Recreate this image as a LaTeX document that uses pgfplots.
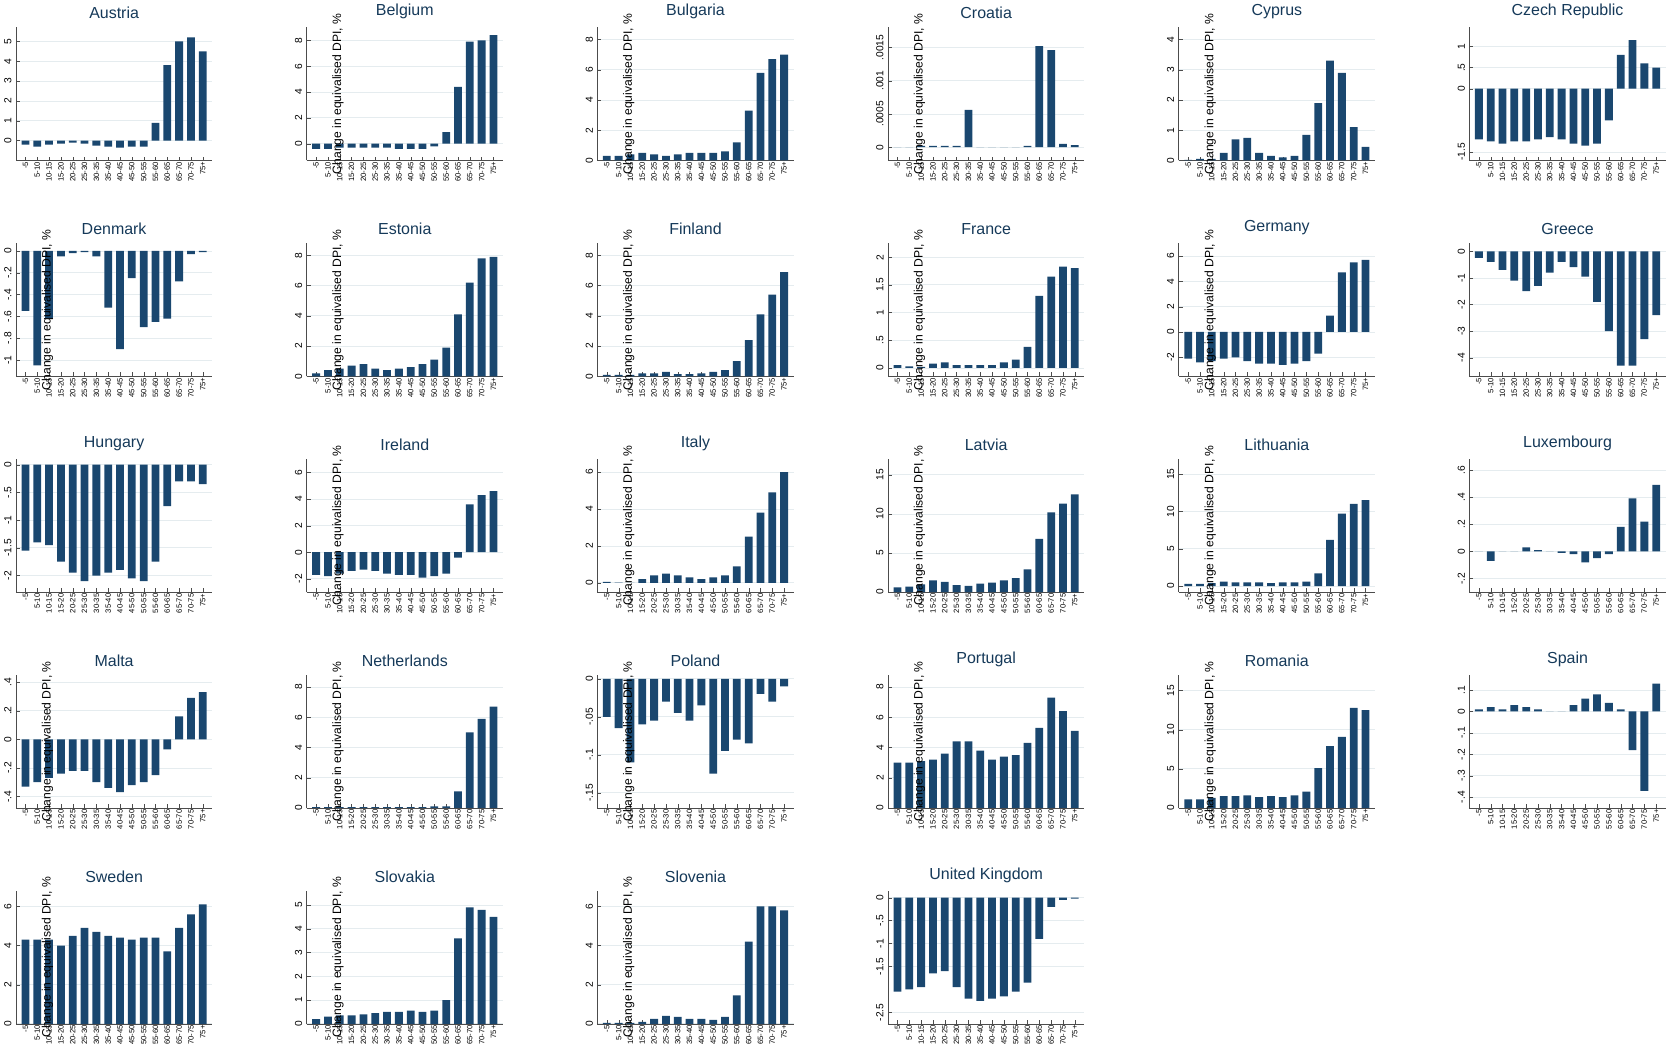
\documentclass[border=0pt]{standalone}
\usepackage{pgfplots}
\pgfplotsset{compat=1.18}
\usepgfplotslibrary{groupplots}
\usepackage{fontspec}
\setmainfont{Liberation Sans}
\definecolor{navy}{HTML}{1A476F}
\definecolor{gridc}{HTML}{E5ECEF}
\newcommand{\bars}[1]{\addplot[ybar,bar width=0.66,fill=navy,draw=none] table[x expr=\coordindex,y index=0,header=false,row sep=\\]{#1};}
\pgfplotsset{lab/.style={ylabel={Change in equivalised DPI, \%}}}
\begin{document}
\begin{tikzpicture}
\begin{groupplot}[group style={group size=6 by 5,horizontal sep=26mm,vertical sep=22.8mm},
 width=54mm,height=36.6mm,scale only axis,
 xmin=-0.8,xmax=15.8,xtick={0,...,15},
 xticklabels={-5,5-10,10-15,15-20,20-25,25-30,30-35,35-40,40-45,45-50,50-55,55-60,60-65,65-70,70-75,75+},
 xticklabel style={rotate=90,anchor=east,font=\fontsize{6}{6}\selectfont,inner sep=1pt},
 yticklabel style={rotate=90,anchor=south,font=\fontsize{8}{8}\selectfont},
 axis x line*=bottom, axis y line*=left, axis line style={gray!60!black},
 ymajorgrids, grid style={gridc,line width=0.6pt},
 tick style={gray!60!black}, major tick length=3pt,
 title style={font=\fontsize{12.5}{13}\selectfont,color=navy!80!black,yshift=-3pt},
 ylabel style={at={(axis description cs:0.16,0.5)},anchor=center,font=\fontsize{9.5}{10}\selectfont},
 /pgf/number format/assume math mode=true,
]
\nextgroupplot[title=Austria,ymin=-1,ymax=5.7,ytick={0,1,2,3,4,5}]
\bars{-0.2\\-0.3\\-0.2\\-0.15\\-0.1\\-0.15\\-0.25\\-0.3\\-0.35\\-0.3\\-0.3\\0.9\\3.8\\5.0\\5.2\\4.5\\}
\nextgroupplot[title=Belgium,lab,ymin=-1.3,ymax=9,ytick={0,2,4,6,8}]
\bars{-0.4\\-0.4\\-0.3\\-0.3\\-0.3\\-0.3\\-0.3\\-0.4\\-0.4\\-0.4\\-0.2\\0.9\\4.4\\7.9\\8.0\\8.4\\}
\nextgroupplot[title=Bulgaria,lab,ymin=0,ymax=8.8,ytick={0,2,4,6,8}]
\bars{0.3\\0.3\\0.4\\0.5\\0.4\\0.3\\0.4\\0.5\\0.5\\0.5\\0.6\\1.2\\3.3\\5.8\\6.7\\7.0\\}
\nextgroupplot[title=Croatia,lab,ymin=-0.0002,ymax=0.0018,ytick={0,0.0005,0.001,0.0015},yticklabels={0,.0005,.001,.0015},scaled y ticks=false]
\bars{0\\0\\0.00002\\0.00002\\0.00002\\0.00002\\0.00056\\0\\0\\0\\0\\0.00002\\0.00152\\0.00146\\0.00005\\0.00003\\}
\nextgroupplot[title=Cyprus,lab,ymin=0,ymax=4.4,ytick={0,1,2,3,4}]
\bars{0.02\\0.05\\0.05\\0.25\\0.7\\0.75\\0.25\\0.15\\0.1\\0.15\\0.85\\1.9\\3.3\\2.9\\1.1\\0.45\\}
\nextgroupplot[title=Czech Republic,ymin=-1.7,ymax=1.45,ytick={-1.5,0,0.5,1},yticklabels={-1.5,0,.5,1}]
\bars{-1.2\\-1.25\\-1.3\\-1.25\\-1.25\\-1.2\\-1.15\\-1.2\\-1.3\\-1.35\\-1.3\\-0.75\\0.8\\1.15\\0.6\\0.5\\}
\nextgroupplot[title=Denmark,lab,ymin=-1.15,ymax=0.07,ytick={-1,-0.8,-0.6,-0.4,-0.2,0},yticklabels={-1,-.8,-.6,-.4,-.2,0}]
\bars{-0.55\\-1.05\\-0.62\\-0.05\\-0.02\\-0.01\\-0.05\\-0.52\\-0.9\\-0.25\\-0.7\\-0.65\\-0.62\\-0.28\\-0.03\\-0.01\\}
\nextgroupplot[title=Estonia,lab,ymin=0,ymax=8.8,ytick={0,2,4,6,8}]
\bars{0.2\\0.4\\0.5\\0.7\\0.8\\0.5\\0.4\\0.5\\0.6\\0.8\\1.1\\1.9\\4.1\\6.2\\7.8\\7.9\\}
\nextgroupplot[title=Finland,lab,ymin=0,ymax=8.8,ytick={0,2,4,6,8}]
\bars{0.1\\0.1\\0.1\\0.2\\0.2\\0.3\\0.15\\0.15\\0.2\\0.3\\0.4\\1.0\\2.4\\4.1\\5.4\\6.9\\}
\nextgroupplot[title=France,lab,ymin=-0.15,ymax=2.25,ytick={0,0.5,1,1.5,2},yticklabels={0,.5,1,1.5,2}]
\bars{0.05\\0.03\\0.02\\0.08\\0.1\\0.05\\0.05\\0.05\\0.05\\0.1\\0.15\\0.38\\1.3\\1.65\\1.83\\1.8\\}
\nextgroupplot[title=Germany,lab,ymin=-3.5,ymax=7,ytick={-2,0,2,4,6}]
\bars{-2.1\\-2.4\\-2.3\\-2.1\\-2.0\\-2.3\\-2.5\\-2.5\\-2.6\\-2.5\\-2.3\\-1.7\\1.3\\4.7\\5.5\\5.7\\}
\nextgroupplot[title=Greece,ymin=-4.7,ymax=0.3,ytick={-4,-3,-2,-1,0}]
\bars{-0.25\\-0.4\\-0.7\\-1.1\\-1.5\\-1.3\\-0.8\\-0.4\\-0.6\\-0.95\\-1.9\\-3.0\\-4.3\\-4.3\\-3.3\\-2.4\\}
\nextgroupplot[title=Hungary,ymin=-2.3,ymax=0.1,ytick={-2,-1.5,-1,-0.5,0},yticklabels={-2,-1.5,-1,-.5,0}]
\bars{-1.55\\-1.4\\-1.45\\-1.75\\-1.95\\-2.1\\-2.0\\-1.95\\-1.9\\-2.05\\-2.1\\-1.75\\-0.75\\-0.3\\-0.3\\-0.35\\}
\nextgroupplot[title=Ireland,lab,ymin=-3,ymax=7,ytick={-2,0,2,4,6}]
\bars{-1.7\\-1.8\\-1.6\\-1.4\\-1.3\\-1.4\\-1.6\\-1.7\\-1.7\\-1.9\\-1.8\\-1.6\\-0.4\\3.6\\4.3\\4.6\\}
\nextgroupplot[title=Italy,lab,ymin=-0.5,ymax=6.7,ytick={0,2,4,6}]
\bars{0.05\\0.02\\0.0\\0.2\\0.4\\0.5\\0.4\\0.3\\0.2\\0.3\\0.4\\0.9\\2.5\\3.8\\4.9\\6.0\\}
\nextgroupplot[title=Latvia,lab,ymin=0,ymax=17,ytick={0,5,10,15}]
\bars{0.6\\0.7\\1.0\\1.5\\1.3\\0.9\\0.8\\1.1\\1.2\\1.5\\1.8\\2.9\\6.8\\10.2\\11.3\\12.5\\}
\nextgroupplot[title=Lithuania,lab,ymin=-0.8,ymax=17,ytick={0,5,10,15}]
\bars{0.3\\0.3\\0.4\\0.6\\0.5\\0.5\\0.5\\0.4\\0.5\\0.5\\0.6\\1.7\\6.2\\9.7\\11.0\\11.5\\}
\nextgroupplot[title=Luxembourg,ymin=-0.3,ymax=0.68,ytick={-0.2,0,0.2,0.4,0.6},yticklabels={-.2,0,.2,.4,.6}]
\bars{0.0\\-0.07\\0.0\\0.0\\0.03\\0.01\\0.0\\-0.01\\-0.02\\-0.08\\-0.05\\-0.02\\0.18\\0.39\\0.22\\0.49\\}
\nextgroupplot[title=Malta,lab,ymin=-0.48,ymax=0.45,ytick={-0.4,-0.2,0,0.2,0.4},yticklabels={-.4,-.2,0,.2,.4}]
\bars{-0.33\\-0.3\\-0.27\\-0.24\\-0.22\\-0.22\\-0.3\\-0.34\\-0.37\\-0.32\\-0.3\\-0.25\\-0.07\\0.16\\0.29\\0.33\\}
\nextgroupplot[title=Netherlands,lab,ymin=0,ymax=8.8,ytick={0,2,4,6,8}]
\bars{0.05\\0.05\\0.05\\0.05\\0.05\\0.05\\0.05\\0.05\\0.05\\0.05\\0.1\\0.1\\1.1\\5.0\\5.9\\6.7\\}
\nextgroupplot[title=Poland,lab,ymin=-0.17,ymax=0.005,ytick={-0.15,-0.1,-0.05,0},yticklabels={-.15,-.1,-.05,0},scaled y ticks=false]
\bars{-0.05\\-0.065\\-0.11\\-0.06\\-0.055\\-0.03\\-0.045\\-0.055\\-0.035\\-0.125\\-0.095\\-0.08\\-0.085\\-0.02\\-0.03\\-0.01\\}
\nextgroupplot[title=Portugal,lab,ymin=0,ymax=8.8,ytick={0,2,4,6,8}]
\bars{3.0\\3.0\\3.1\\3.2\\3.6\\4.4\\4.4\\3.8\\3.2\\3.4\\3.5\\4.3\\5.3\\7.3\\6.4\\5.1\\}
\nextgroupplot[title=Romania,lab,ymin=0,ymax=17,ytick={0,5,10,15}]
\bars{1.1\\1.1\\1.3\\1.5\\1.5\\1.6\\1.4\\1.5\\1.4\\1.6\\2.1\\5.1\\7.9\\9.1\\12.8\\12.5\\}
\nextgroupplot[title=Spain,ymin=-0.45,ymax=0.17,ytick={-0.4,-0.3,-0.2,-0.1,0,0.1},yticklabels={-.4,-.3,-.2,-.1,0,.1}]
\bars{0.01\\0.02\\0.01\\0.03\\0.02\\0.01\\0.0\\0.0\\0.03\\0.06\\0.08\\0.04\\0.01\\-0.18\\-0.37\\0.13\\}
\nextgroupplot[title=Sweden,lab,ymin=0,ymax=6.8,ytick={0,2,4,6}]
\bars{4.3\\4.3\\4.3\\4.0\\4.5\\4.9\\4.7\\4.5\\4.4\\4.3\\4.4\\4.4\\3.7\\4.9\\5.6\\6.1\\}
\nextgroupplot[title=Slovakia,lab,ymin=0,ymax=5.6,ytick={0,1,2,3,4,5}]
\bars{0.2\\0.3\\0.35\\0.35\\0.4\\0.45\\0.5\\0.5\\0.55\\0.5\\0.55\\1.0\\3.6\\4.9\\4.8\\4.5\\}
\nextgroupplot[title=Slovenia,lab,ymin=0,ymax=6.8,ytick={0,2,4,6}]
\bars{0.05\\0.05\\0.05\\0.1\\0.25\\0.4\\0.35\\0.25\\0.25\\0.2\\0.35\\1.45\\4.2\\6.0\\6.0\\5.8\\}
\nextgroupplot[title=United Kingdom,ymin=-2.75,ymax=0.15,ytick={-2.5,-1.5,-1,-0.5,0},yticklabels={-2.5,-1.5,-1,-.5,0}]
\bars{-2.05\\-2.0\\-1.95\\-1.65\\-1.6\\-1.95\\-2.2\\-2.25\\-2.2\\-2.15\\-2.05\\-1.85\\-0.9\\-0.2\\-0.05\\-0.02\\}
\end{groupplot}
\end{tikzpicture}
\end{document}
